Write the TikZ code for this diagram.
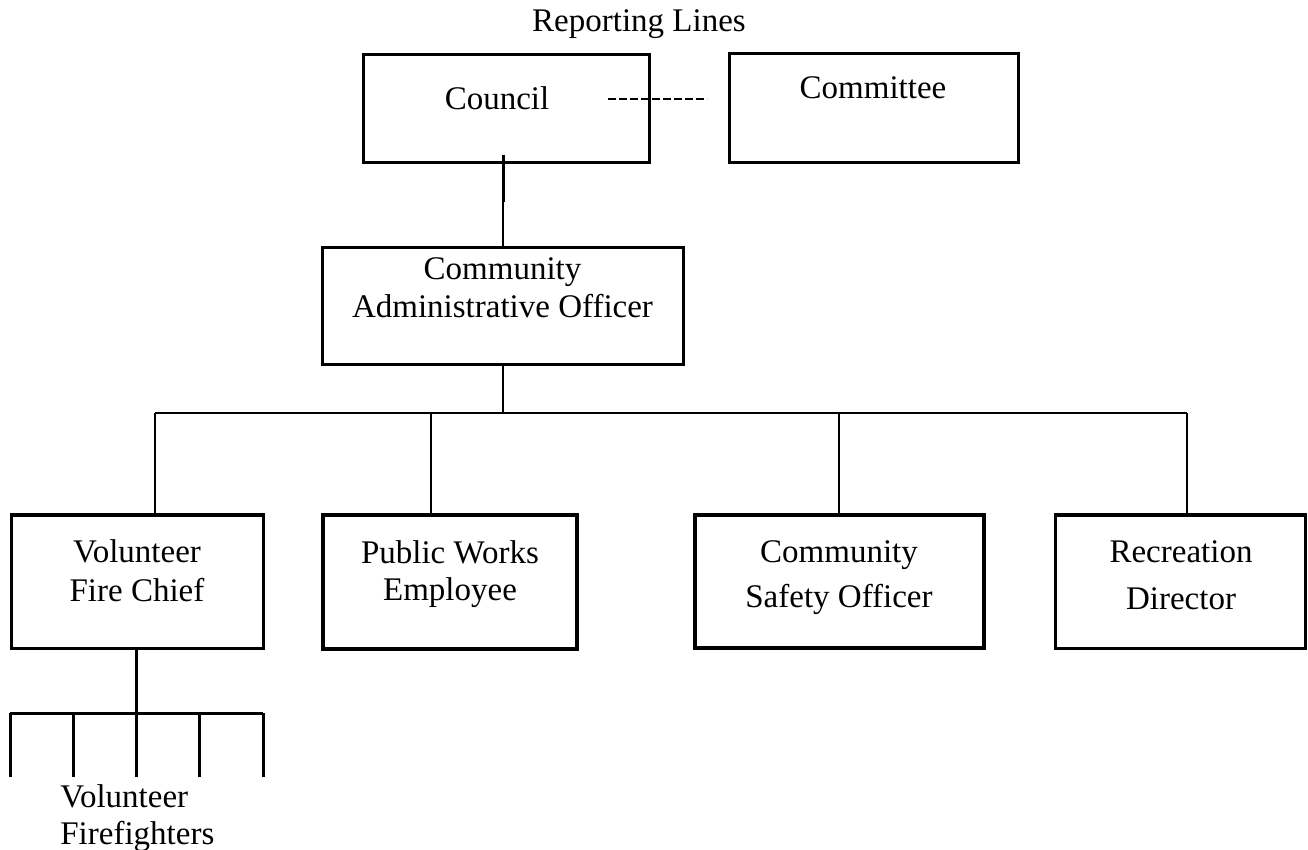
\documentclass[tikz,border=0pt]{standalone}
\usepackage{fontspec}
\setmainfont{Liberation Serif}
\begin{document}
\begin{tikzpicture}[x=0.5pt,y=-0.5pt,
  box/.style={draw=black, line width=1.5pt, rectangle, inner sep=0pt},
  boldbox/.style={box, line width=2pt},
  lbl/.style={inner sep=0pt, align=center, font=\fontsize{16.5}{19}\selectfont},
  link/.style={draw=black, line width=1pt},
  heavylink/.style={draw=black, line width=1.5pt}
]
% canvas
\fill[white] (0,0) rectangle (1308,850);
\useasboundingbox (0,0) rectangle (1308,850);

% heading
\node[lbl, anchor=base] (title) at (639,32) {Reporting Lines};

% top level
\node[box, minimum width=143pt, minimum height=54pt] (council) at (506,109) {};
\node[lbl, anchor=base] (councilt) at (497,110) {Council};
\node[box, minimum width=144.5pt, minimum height=54.5pt] (committee) at (873.5,108.5) {};
\node[lbl, anchor=base] (committeet) at (873,99) {Committee};

% administrative officer
\node[box, minimum width=180.5pt, minimum height=58.5pt] (cao) at (502.5,306.5) {};
\node[lbl, font=\fontsize{16.5}{19}\selectfont] (caot) at (502.5,288) {Community\\Administrative Officer};

% staff row
\node[box, minimum width=126pt, minimum height=66.5pt] (vfc) at (137,581.5) {};
\node[lbl, font=\fontsize{16.5}{19.5}\selectfont] (vfct) at (137,571) {Volunteer\\Fire Chief};
\node[boldbox, minimum width=127pt, minimum height=67pt] (pwe) at (450,582) {};
\node[lbl, font=\fontsize{16.5}{18.5}\selectfont] (pwet) at (450,574) {Public Works\\Employee};
\node[boldbox, minimum width=144.5pt, minimum height=66.5pt] (cso) at (839.5,581.5) {};
\node[lbl, font=\fontsize{16.5}{22.5}\selectfont] (csot) at (839,578) {Community\\Safety Officer};
\node[box, minimum width=125pt, minimum height=66.5pt] (rd) at (1180,581.5) {};
\node[lbl, font=\fontsize{16.5}{23.5}\selectfont] (rdt) at (1181,575) {Recreation\\Director};

% firefighters label
\node[lbl, anchor=west, align=left, font=\fontsize{16.5}{18.5}\selectfont] (fft) at (60,818) {Volunteer\\Firefighters};

% advisory link between council and committee
\coordinate (dashL) at (608,99);
\coordinate (dashR) at (707,99);
\draw[link, dash pattern=on 4pt off 1.5pt] (dashL) -- (dashR);

% council to administrative officer
\coordinate (cv1) at (503,155);
\coordinate (cv2) at (503,202);
\draw[heavylink] (cv1) -- (cv2);
\draw[link] (cv2) -- (cv2 |- cao.north);

% administrative officer to staff
\coordinate (busM) at (503,413);
\coordinate (busL) at (155,413);
\coordinate (busR) at (1187,413);
\coordinate (busP) at (431,413);
\coordinate (busC) at (839,413);
\draw[link] (cao.south -| busM) -- (busM);
\draw[link] (busL) -- (busR);
\draw[link] (busL) -- (busL |- vfc.north);
\draw[link] (busP) -- (busP |- pwe.north);
\draw[link] (busC) -- (busC |- cso.north);
\draw[link] (busR) -- (busR |- rd.north);

% fire chief to firefighters
\coordinate (fbus) at (136,713);
\coordinate (f1) at (10,713);
\coordinate (f2) at (73,713);
\coordinate (f4) at (199,713);
\coordinate (f5) at (263,713);
\draw[heavylink] (fbus |- vfc.south) -- (fbus);
\draw[heavylink] (f1) -- (f5);
\foreach \p in {f1,f2,fbus,f4,f5}
  \draw[heavylink] (\p) -- ++(0,64);
\end{tikzpicture}
\end{document}
